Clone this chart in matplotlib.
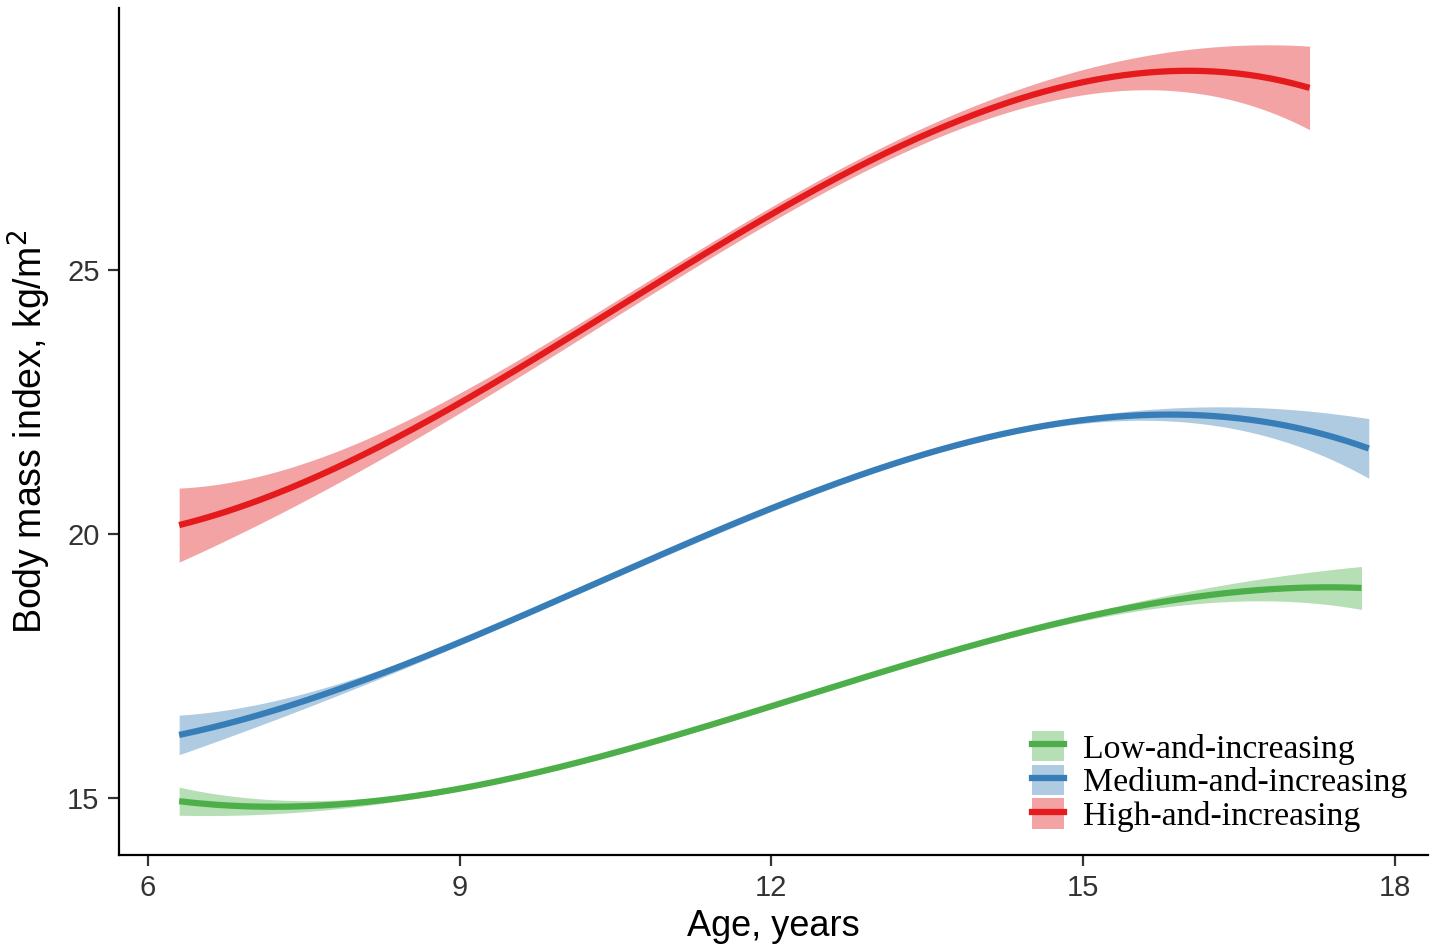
import numpy as np
import matplotlib
matplotlib.use("Agg")
import matplotlib.pyplot as plt
from matplotlib.patches import Patch
from matplotlib.lines import Line2D

# values (age in years, BMI in kg/m2, half width of the band)
groups = ["Low-and-increasing", "Medium-and-increasing", "High-and-increasing"]
colors = ["#4DAF4A", "#377EB8", "#E41A1C"]

age_low = [6.3, 7, 8, 9, 10, 11, 12, 13, 14, 15, 16, 17, 17.68]
bmi_low = [14.91, 14.87, 14.91, 15.19, 15.60, 16.16, 16.67, 17.33, 17.96, 18.46, 18.77, 18.96, 18.98]
ci_low = [0.27, 0.15, 0.07, 0.05, 0.04, 0.04, 0.04, 0.04, 0.05, 0.07, 0.12, 0.25, 0.41]

age_med = [6.3, 7, 8, 9, 10, 11, 12, 13, 14, 15, 16, 17, 17.75]
bmi_med = [16.16, 16.57, 17.19, 17.95, 18.81, 19.60, 20.50, 21.17, 21.88, 22.13, 22.24, 22.05, 21.61]
ci_med = [0.37, 0.22, 0.10, 0.06, 0.05, 0.05, 0.05, 0.05, 0.06, 0.08, 0.13, 0.30, 0.58]

age_high = [6.3, 7, 8, 9, 10, 11, 12, 13, 14, 15, 16, 17, 17.18]
bmi_high = [20.21, 20.60, 21.40, 22.30, 23.70, 25.00, 26.15, 27.08, 27.92, 28.50, 28.76, 28.56, 28.47]
ci_high = [0.71, 0.46, 0.27, 0.20, 0.16, 0.15, 0.14, 0.13, 0.16, 0.26, 0.40, 0.70, 0.80]

xticks = [6, 9, 12, 15, 18]
yticks = [15, 20, 25]

sans = ["Liberation Sans Narrow", "Liberation Sans", "DejaVu Sans"]
serif = ["Liberation Serif", "DejaVu Serif"]

fig = plt.figure(figsize=(14.41, 9.52), dpi=100)
ax = fig.add_axes([119 / 1441, 1 - 855 / 952, (1428 - 119) / 1441, (855 - 8) / 952])

series = [(age_low, bmi_low, ci_low), (age_med, bmi_med, ci_med), (age_high, bmi_high, ci_high)]

# trajectories are polynomial in age, so smooth the read points with a cubic fit
curves = []
for (a, m, c), col in zip(series, colors):
    xs = np.linspace(a[0], a[-1], 300)
    ys = np.polyval(np.polyfit(a, m, 3), xs)
    hw = np.clip(np.polyval(np.polyfit(a, c, 4), xs), 0.035, None)
    ax.fill_between(xs, ys - hw, ys + hw, color=col, alpha=0.4, linewidth=0)
    curves.append((xs, ys))
for (xs, ys), col in zip(curves, colors):
    ax.plot(xs, ys, color=col, linewidth=4.5, solid_capstyle="butt")

ax.set_xlim(5.721, 18.32)
ax.set_ylim(13.92, 29.96)
ax.set_xticks(xticks)
ax.set_yticks(yticks)

for side in ["top", "right"]:
    ax.spines[side].set_visible(False)
for side in ["left", "bottom"]:
    ax.spines[side].set_linewidth(1.6)
    ax.spines[side].set_color("black")
ax.tick_params(length=8, width=1.6, color="#333333", labelcolor="#333333", pad=6)
for lab in ax.get_xticklabels() + ax.get_yticklabels():
    lab.set_family(sans)
    lab.set_fontsize(21)

ax.set_xlabel("Age, years", family=sans, fontsize=26, labelpad=5)
ax.set_ylabel("Body mass index, kg/m$^2$", family=sans, fontsize=27, labelpad=10)

handles = [(Patch(facecolor=col, alpha=0.4, linewidth=0),
            Line2D([], [], color=col, linewidth=4.5)) for col in colors]
ax.legend(handles, groups, loc="upper left",
          bbox_to_anchor=(1032 / 1441, 1 - 731 / 952), bbox_transform=fig.transFigure,
          frameon=False, prop={"family": serif, "size": 24.3},
          labelspacing=0.0, handlelength=0.95, handleheight=1.0,
          handletextpad=0.55, borderpad=0, borderaxespad=0)

fig.savefig("out.png", dpi=100)
